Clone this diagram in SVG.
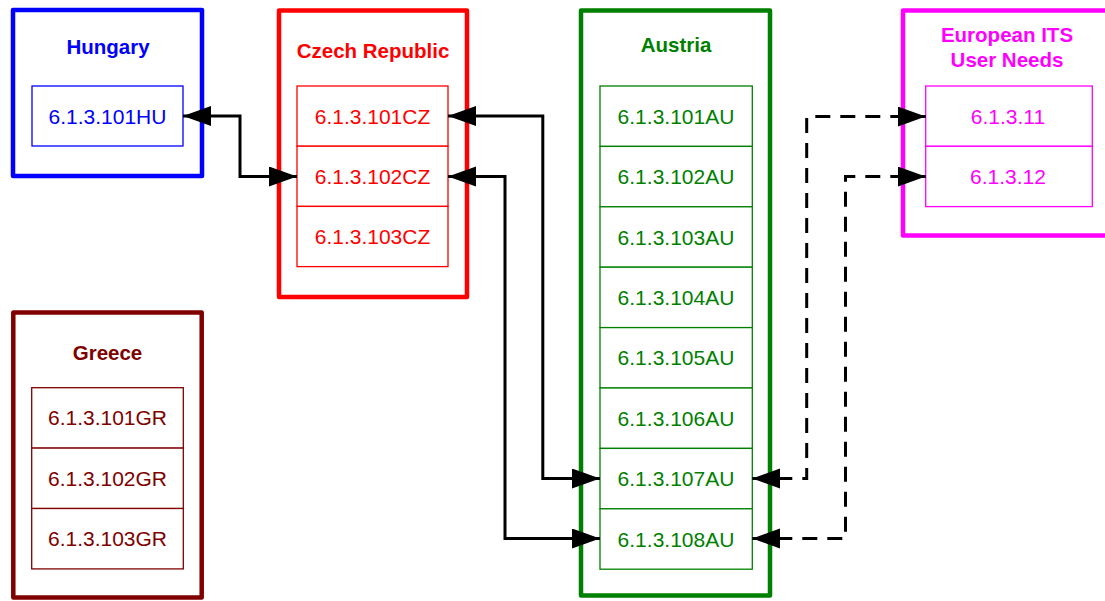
<svg xmlns="http://www.w3.org/2000/svg" width="1105" height="601" viewBox="0 0 1105 601">
  <defs>
    <style>
      .frame { fill: #ffffff; stroke-width: 4.5; stroke-linejoin: round; }
      .cell { fill: #ffffff; stroke-width: 1.3; }
      .title { font-family: "Liberation Sans", Arial, sans-serif; font-size: 20.5px; font-weight: bold; text-anchor: middle; }
      .item { font-family: "Liberation Sans", Arial, sans-serif; font-size: 21px; text-anchor: middle; }
      text { stroke: none; }
      .link { fill: none; stroke: #000000; stroke-width: 3; marker-start: url(#head); marker-end: url(#head); }
      .dashed { stroke-dasharray: 15 10; }
    </style>
    <marker id="head" markerUnits="userSpaceOnUse" markerWidth="30" markerHeight="21" refX="28" refY="10" orient="auto-start-reverse">
      <path d="M0,0 L28,10 L0,20 Z" fill="#000000"/>
    </marker>
  </defs>

  <!-- Hungary -->
  <g id="hungary">
    <rect class="frame" x="13" y="10" width="189" height="166" stroke="#0000ff"/>
    <text class="title" x="108" y="54" fill="#0000ff">Hungary</text>
    <rect class="cell" x="32" y="86" width="151" height="60" stroke="#0000ff"/>
    <text class="item" x="107.5" y="123.5" fill="#0000ff">6.1.3.101HU</text>
  </g>

  <!-- Czech Republic -->
  <g id="czech-republic">
    <rect class="frame" x="279" y="10.5" width="188" height="286.5" stroke="#ff0000"/>
    <text class="title" x="373" y="58" fill="#ff0000">Czech Republic</text>
    <rect class="cell" x="297" y="86" width="151" height="60.2" stroke="#ff0000"/>
    <rect class="cell" x="297" y="146.2" width="151" height="60.2" stroke="#ff0000"/>
    <rect class="cell" x="297" y="206.4" width="151" height="60.2" stroke="#ff0000"/>
    <text class="item" x="372.5" y="123.5" fill="#ff0000">6.1.3.101CZ</text>
    <text class="item" x="372.5" y="183.7" fill="#ff0000">6.1.3.102CZ</text>
    <text class="item" x="372.5" y="243.9" fill="#ff0000">6.1.3.103CZ</text>
  </g>

  <!-- Austria -->
  <g id="austria">
    <rect class="frame" x="581" y="10.5" width="189" height="585" stroke="#008000"/>
    <text class="title" x="676" y="52.3" fill="#008000">Austria</text>
    <g stroke="#008000">
      <rect class="cell" x="600" y="86" width="152.3" height="60.4"/>
      <rect class="cell" x="600" y="146.4" width="152.3" height="60.4"/>
      <rect class="cell" x="600" y="206.8" width="152.3" height="60.4"/>
      <rect class="cell" x="600" y="267.2" width="152.3" height="60.4"/>
      <rect class="cell" x="600" y="327.6" width="152.3" height="60.4"/>
      <rect class="cell" x="600" y="388" width="152.3" height="60.4"/>
      <rect class="cell" x="600" y="448.4" width="152.3" height="60.4"/>
      <rect class="cell" x="600" y="508.8" width="152.3" height="60.4"/>
    </g>
    <g fill="#008000">
      <text class="item" x="676" y="123.7">6.1.3.101AU</text>
      <text class="item" x="676" y="184.1">6.1.3.102AU</text>
      <text class="item" x="676" y="244.5">6.1.3.103AU</text>
      <text class="item" x="676" y="304.9">6.1.3.104AU</text>
      <text class="item" x="676" y="365.3">6.1.3.105AU</text>
      <text class="item" x="676" y="425.7">6.1.3.106AU</text>
      <text class="item" x="676" y="486.1">6.1.3.107AU</text>
      <text class="item" x="676" y="546.5">6.1.3.108AU</text>
    </g>
  </g>

  <!-- European ITS User Needs -->
  <g id="european-its">
    <rect class="frame" x="903" y="10.5" width="210" height="225" stroke="#ff00ff"/>
    <text class="title" x="1007" y="41.7" fill="#ff00ff">European ITS</text>
    <text class="title" x="1007" y="66.7" fill="#ff00ff">User Needs</text>
    <rect class="cell" x="925.7" y="86" width="166.6" height="60.3" stroke="#ff00ff"/>
    <rect class="cell" x="925.7" y="146.3" width="166.6" height="60.3" stroke="#ff00ff"/>
    <text class="item" x="1008" y="123.6" fill="#ff00ff">6.1.3.11</text>
    <text class="item" x="1008" y="183.9" fill="#ff00ff">6.1.3.12</text>
  </g>

  <!-- Greece -->
  <g id="greece">
    <rect class="frame" x="13.3" y="312.5" width="188.4" height="285" stroke="#800000"/>
    <text class="title" x="107.5" y="360" fill="#800000">Greece</text>
    <rect class="cell" x="31.7" y="387.7" width="151.6" height="60.4" stroke="#800000"/>
    <rect class="cell" x="31.7" y="448.1" width="151.6" height="60.4" stroke="#800000"/>
    <rect class="cell" x="31.7" y="508.5" width="151.6" height="60.4" stroke="#800000"/>
    <text class="item" x="107.5" y="425.4" fill="#800000">6.1.3.101GR</text>
    <text class="item" x="107.5" y="485.8" fill="#800000">6.1.3.102GR</text>
    <text class="item" x="107.5" y="546.2" fill="#800000">6.1.3.103GR</text>
  </g>

  <!-- Connectors -->
  <g id="connectors">
    <path class="link" d="M183,116 H240 V176.5 H297"/>
    <path class="link" d="M448,116 H542.8 V478.5 H600"/>
    <path class="link" d="M448,176.5 H505 V538.5 H600"/>
    <path class="link dashed" d="M752.3,478.5 H806.7 V116.5 H925.7"/>
    <path class="link dashed" d="M752.3,538.5 H845.5 V176.5 H925.7"/>
  </g>
</svg>
